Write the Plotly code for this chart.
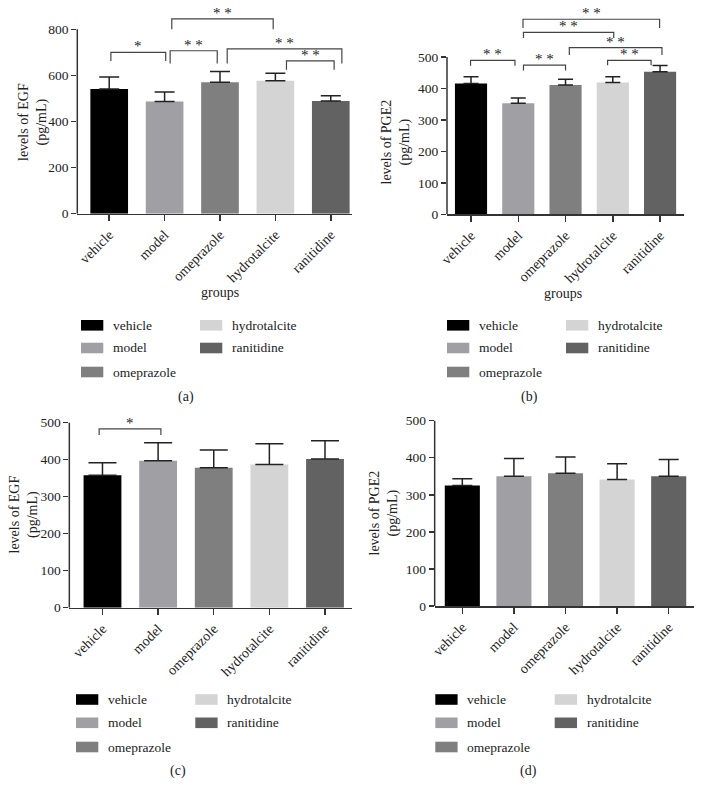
import plotly.graph_objects as go

W, H = 703, 797
FONT = "Liberation Serif"
INK = "#333333"

# ---------------- data ----------------
groups = ["vehicle", "model", "omeprazole", "hydrotalcite", "ranitidine"]
bar_colors = ["#000000", "#a0a0a4", "#7f7f7f", "#d4d4d4", "#626262"]

egf_a = [541, 487, 570, 577, 489]
egf_a_sd = [52, 41, 47, 32, 23]

pge2_b = [416, 353, 411, 419, 453]
pge2_b_sd = [21, 17, 18, 18, 20]

egf_c = [358, 397, 378, 387, 402]
egf_c_sd = [34, 49, 48, 56, 49]

pge2_d = [325, 350, 358, 341, 350]
pge2_d_sd = [18, 48, 44, 43, 45]

yticks_a = [0, 200, 400, 600, 800]
yticks_bcd = [0, 100, 200, 300, 400, 500]

# significance brackets: (left x, right x, bracket level, leg bottom, label)
sig_a = [(0.03, 1.02, 700, 663, "*"),
         (1.10, 1.95, 707, 652, "* *"),
         (1.13, 2.96, 845, 800, "* *"),
         (2.13, 4.20, 715, 652, "* *"),
         (3.20, 4.06, 663, 624, "* *")]
sig_b = [(-0.01, 0.93, 489, 472, "* *"),
         (1.11, 2.00, 474, 457, "* *"),
         (1.10, 3.99, 620, 592, "* *"),
         (1.11, 3.02, 578, 560, "* *"),
         (2.08, 4.04, 530, 506, "* *"),
         (2.89, 3.81, 489, 474, "* *")]
sig_c = [(-0.06, 1.05, 483, 467, "*")]
sig_d = []

# ---------------- layout helpers ----------------
def px(x):
    return x / W


def py(y):
    return 1 - y / H


panels = [
    dict(vals=egf_a, sd=egf_a_sd, ticks=yticks_a, sig=sig_a, ytitle="levels of EGF<br>(pg/mL)",
         xr=[-0.576, 4.374], yr=[0, 900], xd=[77.3, 351.5], yd=[213.67, 6.27], cap=10,
         ytpos=(33, 122), groups_lbl=(220, 292), leg_x=(81, 200), leg_y=(325.3, 348, 372),
         cap_lbl=("(a)", 186, 397)),
    dict(vals=pge2_b, sd=pge2_b_sd, ticks=yticks_bcd, sig=sig_b, ytitle="levels of PGE2<br>(pg/mL)",
         xr=[-0.508, 4.50], yr=[0, 660], xd=[447, 683.7], yd=[214.33, 6.65], cap=7.5,
         ytpos=(395.5, 142), groups_lbl=(562.7, 293), leg_x=(447, 566), leg_y=(325.3, 348, 372),
         cap_lbl=("(b)", 529.5, 397)),
    dict(vals=egf_c, sd=egf_c_sd, ticks=yticks_bcd, sig=sig_c, ytitle="levels of EGF<br>(pg/mL)",
         xr=[-0.596, 4.48], yr=[0, 540], xd=[69.33, 351.7], yd=[607.67, 407.87], cap=14,
         ytpos=(23.5, 515), groups_lbl=None, leg_x=(76, 195.3), leg_y=(699.5, 722.8, 747),
         cap_lbl=("(c)", 178.3, 771)),
    dict(vals=pge2_d, sd=pge2_d_sd, ticks=yticks_bcd, sig=sig_d, ytitle="levels of PGE2<br>(pg/mL)",
         xr=[-0.536, 4.484], yr=[0, 540], xd=[434.67, 693.67], yd=[606, 405.8], cap=10,
         ytpos=(383.5, 513), groups_lbl=None, leg_x=(435.3, 554.7), leg_y=(699.5, 722.8, 747),
         cap_lbl=("(d)", 528.7, 771)),
]

fig = go.Figure()
shapes = []
annotations = []
layout_axes = {}

for i, p in enumerate(panels):
    n = "" if i == 0 else str(i + 1)
    xa, ya = "x" + n, "y" + n
    fig.add_trace(go.Bar(
        x=list(range(len(groups))), y=p["vals"],
        marker=dict(color=bar_colors, line=dict(width=0)),
        width=0.68,
        error_y=dict(type="data", array=p["sd"], arrayminus=[0] * len(groups), symmetric=False,
                     color="#222222", thickness=1.5, width=p["cap"]),
        xaxis=xa, yaxis=ya, showlegend=False, hoverinfo="skip",
    ))
    layout_axes["xaxis" + n] = dict(
        domain=[px(p["xd"][0]), px(p["xd"][1])], range=p["xr"], anchor=ya, automargin=False,
        tickmode="array", tickvals=list(range(len(groups))), ticktext=groups,
        tickangle=-45, ticks="outside", ticklen=6, tickwidth=1.5, tickcolor=INK,
        showline=True, linecolor=INK, linewidth=1.5, showgrid=False, zeroline=False,
        tickfont=dict(family=FONT, size=14, color="#222"), fixedrange=True,
    )
    layout_axes["yaxis" + n] = dict(
        domain=[py(p["yd"][0]), py(p["yd"][1])], range=p["yr"], anchor=xa, automargin=False,
        tickmode="array", tickvals=p["ticks"], ticks="outside", ticklen=5, tickwidth=1.5,
        tickcolor=INK, showline=False, showgrid=False, zeroline=False,
        tickfont=dict(family=FONT, size=13.5, color="#222"), fixedrange=True,
    )
    # y axis line only up to the last tick
    shapes.append(dict(type="line", xref=xa + " domain", yref=ya, x0=0, x1=0,
                       y0=0, y1=p["ticks"][-1], line=dict(color=INK, width=1.5)))
    # significance brackets
    for (x0, x1, yb, yl, lab) in p["sig"]:
        shapes.append(dict(type="path", xref=xa, yref=ya,
                           path=f"M {x0},{yl} L {x0},{yb} L {x1},{yb} L {x1},{yl}",
                           line=dict(color="#444", width=1.2)))
        annotations.append(dict(xref=xa, yref=ya, x=(x0 + x1) / 2, y=yb, text=lab,
                                showarrow=False, yanchor="bottom", yshift=-4,
                                font=dict(family=FONT, size=15, color="#222")))
    # y axis title
    annotations.append(dict(xref="paper", yref="paper", x=px(p["ytpos"][0]), y=py(p["ytpos"][1]),
                            text=p["ytitle"], textangle=-90, showarrow=False,
                            xanchor="center", yanchor="middle",
                            font=dict(family=FONT, size=14, color="#222")))
    if p["groups_lbl"]:
        annotations.append(dict(xref="paper", yref="paper", x=px(p["groups_lbl"][0]),
                                y=py(p["groups_lbl"][1]), text="groups", showarrow=False,
                                xanchor="center", yanchor="middle",
                                font=dict(family=FONT, size=14, color="#222")))
    # manual legend (2 columns)
    order = [(0, 0, 0), (1, 0, 1), (2, 0, 2), (3, 1, 0), (4, 1, 1)]
    for gi, col, row in order:
        sx = p["leg_x"][col]
        sy = p["leg_y"][row]
        shapes.append(dict(type="rect", xref="paper", yref="paper",
                           x0=px(sx), x1=px(sx + 22.3), y0=py(sy + 5.3), y1=py(sy - 5.3),
                           fillcolor=bar_colors[gi], line=dict(width=0)))
        annotations.append(dict(xref="paper", yref="paper", x=px(sx + 30), y=py(sy),
                                text=groups[gi], showarrow=False, xanchor="left", yanchor="middle",
                                font=dict(family=FONT, size=13.5, color="#222")))
    lbl, cx, cy = p["cap_lbl"]
    annotations.append(dict(xref="paper", yref="paper", x=px(cx), y=py(cy), text=lbl,
                            showarrow=False, xanchor="center", yanchor="middle",
                            font=dict(family=FONT, size=14, color="#222")))

fig.update_layout(
    template="none",
    width=W, height=H, margin=dict(l=0, r=0, t=0, b=0, autoexpand=False),
    paper_bgcolor="white", plot_bgcolor="white",
    font=dict(family=FONT, size=13, color="#222"),
    shapes=shapes, annotations=annotations,
    **layout_axes,
)

fig.write_html(
    "out.html",
    config={"displayModeBar": False, "staticPlot": True},
    post_script="document.body.style.margin='0px';document.body.style.padding='0px';"
                "document.body.style.overflow='hidden';",
)
